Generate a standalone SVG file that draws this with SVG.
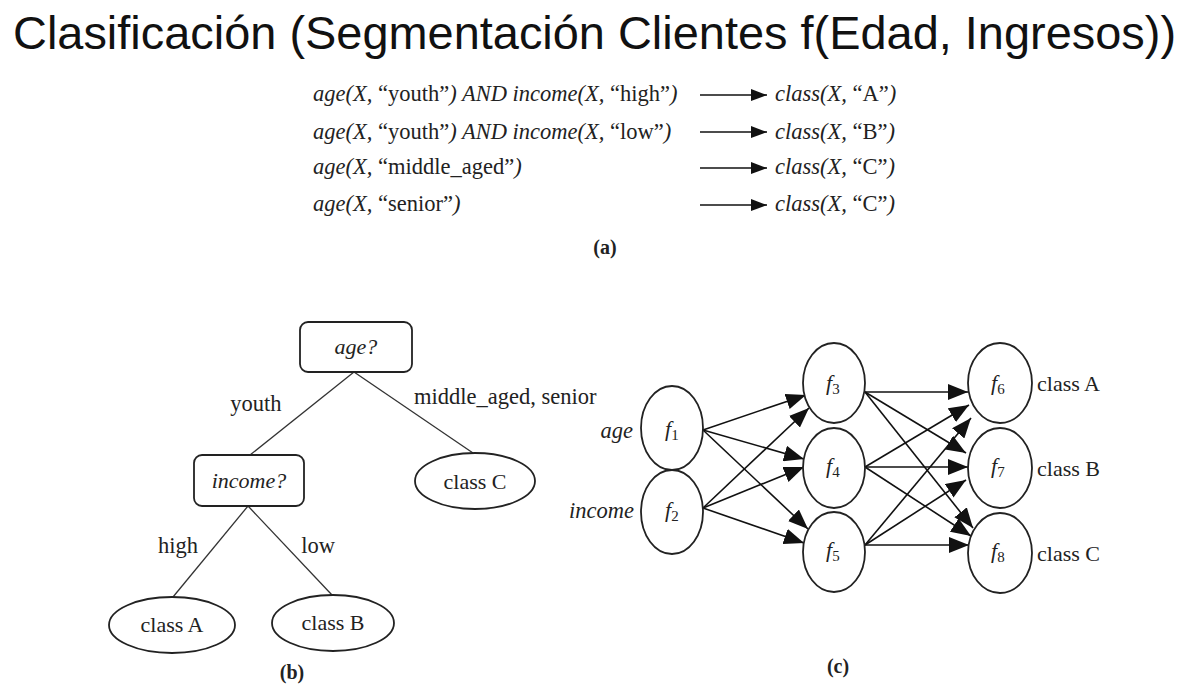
<svg xmlns="http://www.w3.org/2000/svg" width="1191" height="689" viewBox="0 0 1191 689">
<style>
.title{font-family:"Liberation Sans",Arial,sans-serif;font-size:46px;fill:#111}
.t{font-family:"Liberation Serif","Times New Roman",serif;fill:#222}
.r{font-size:22.5px}
.n{font-size:22px}
.l{font-size:22.5px}
.i{font-style:italic}
.u{font-style:normal}
.sub{font-style:normal;font-size:15px}
.cap{font-family:"Liberation Serif","Times New Roman",serif;font-weight:bold;font-size:20px;fill:#222}
.shape{fill:#fff;stroke:#222;stroke-width:1.8}
.edge{stroke:#333;stroke-width:1.3;fill:none}
.arr{stroke:#111;stroke-width:1.6;fill:none;marker-end:url(#ah)}
.arr2{stroke:#111;stroke-width:1.6;fill:none;marker-end:url(#ah2)}
</style>
<defs>
<marker id="ah" markerUnits="userSpaceOnUse" markerWidth="17" markerHeight="12" refX="16" refY="6" orient="auto">
<path d="M0,0 L16,6 L0,12 z" fill="#111"/>
</marker>
<marker id="ah2" markerUnits="userSpaceOnUse" markerWidth="21" markerHeight="16" refX="20" refY="8" orient="auto">
<path d="M0,0 L20,8 L0,16 z" fill="#111"/>
</marker>
</defs>
<rect width="1191" height="689" fill="#fff"/>
<text class="title" x="13" y="49" textLength="1163" lengthAdjust="spacingAndGlyphs">Clasificación (Segmentación Clientes f(Edad, Ingresos))</text>

<g id="rules">
<text class="t r i" x="313" y="101">age(X, <tspan class="u">“youth”</tspan>) AND income(X, <tspan class="u">“high”</tspan>)</text>
<text class="t r i" x="313" y="139">age(X, <tspan class="u">“youth”</tspan>) AND income(X, <tspan class="u">“low”</tspan>)</text>
<text class="t r i" x="313" y="174">age(X, <tspan class="u">“middle_aged”</tspan>)</text>
<text class="t r i" x="313" y="211">age(X, <tspan class="u">“senior”</tspan>)</text>
<text class="t r i" x="775" y="101">class(X, <tspan class="u">“A”</tspan>)</text>
<text class="t r i" x="775" y="139">class(X, <tspan class="u">“B”</tspan>)</text>
<text class="t r i" x="775" y="174">class(X, <tspan class="u">“C”</tspan>)</text>
<text class="t r i" x="775" y="211">class(X, <tspan class="u">“C”</tspan>)</text>
<text class="cap" x="605" y="254" text-anchor="middle">(a)</text>
</g>
<g id="rule-arrows">
<line class="arr" x1="700" y1="95" x2="767" y2="95"/>
<line class="arr" x1="700" y1="132" x2="767" y2="132"/>
<line class="arr" x1="700" y1="168" x2="767" y2="168"/>
<line class="arr" x1="700" y1="205" x2="767" y2="205"/>
</g>

<g id="tree-edges">
<line class="edge" x1="354" y1="372" x2="250" y2="455"/>
<line class="edge" x1="354" y1="372" x2="473" y2="453"/>
<line class="edge" x1="248" y1="506" x2="173" y2="597"/>
<line class="edge" x1="248" y1="506" x2="332" y2="595"/>
<text class="t l" x="256" y="411" text-anchor="middle">youth</text>
<text class="t l" x="414" y="404">middle_aged, senior</text>
<text class="t l" x="178" y="553" text-anchor="middle">high</text>
<text class="t l" x="318" y="553" text-anchor="middle">low</text>
</g>
<g id="node-age">
<rect class="shape" x="300" y="322" width="112" height="50" rx="8"/>
<text class="t n i" x="356" y="354" text-anchor="middle">age?</text>
</g>
<g id="node-income">
<rect class="shape" x="194" y="455" width="110" height="51" rx="8"/>
<text class="t n i" x="249" y="488" text-anchor="middle">income?</text>
</g>
<g id="node-classC">
<ellipse class="shape" cx="475" cy="481" rx="60" ry="28"/>
<text class="t n" x="475" y="489" text-anchor="middle">class C</text>
</g>
<g id="node-classA">
<ellipse class="shape" cx="172" cy="625" rx="63" ry="28"/>
<text class="t n" x="172" y="632" text-anchor="middle">class A</text>
</g>
<g id="node-classB">
<ellipse class="shape" cx="333" cy="623" rx="61" ry="28"/>
<text class="t n" x="333" y="630" text-anchor="middle">class B</text>
</g>
<text class="cap" x="292" y="679" text-anchor="middle">(b)</text>

<g id="nn-edges">
<line class="arr2" x1="703" y1="430" x2="806" y2="395"/>
<line class="arr2" x1="703" y1="430" x2="804" y2="459"/>
<line class="arr2" x1="703" y1="430" x2="808" y2="529"/>
<line class="arr2" x1="703" y1="508" x2="809" y2="408"/>
<line class="arr2" x1="703" y1="508" x2="804" y2="467"/>
<line class="arr2" x1="703" y1="508" x2="804" y2="543"/>
<line class="arr2" x1="865" y1="392" x2="968" y2="392"/>
<line class="arr2" x1="865" y1="392" x2="966" y2="453"/>
<line class="arr2" x1="865" y1="392" x2="973" y2="528"/>
<line class="arr2" x1="865" y1="467" x2="969" y2="405"/>
<line class="arr2" x1="865" y1="467" x2="968" y2="467"/>
<line class="arr2" x1="865" y1="467" x2="971" y2="536"/>
<line class="arr2" x1="865" y1="545" x2="971" y2="418"/>
<line class="arr2" x1="865" y1="545" x2="966" y2="480"/>
<line class="arr2" x1="865" y1="545" x2="969" y2="545"/>
</g>
<g id="nn-f1">
<ellipse class="shape" cx="672" cy="428" rx="31" ry="42"/>
<text class="t n i" x="665" y="436">f<tspan class="sub" dy="4">1</tspan></text>
<text class="t l i" x="633" y="438" text-anchor="end">age</text>
</g>
<g id="nn-f2">
<ellipse class="shape" cx="672" cy="512" rx="31" ry="42"/>
<text class="t n i" x="665" y="517">f<tspan class="sub" dy="4">2</tspan></text>
<text class="t l i" x="634" y="518" text-anchor="end">income</text>
</g>
<g id="nn-f3">
<ellipse class="shape" cx="834" cy="383" rx="31" ry="40"/>
<text class="t n i" x="826" y="390">f<tspan class="sub" dy="4">3</tspan></text>
</g>
<g id="nn-f4">
<ellipse class="shape" cx="834" cy="468" rx="31" ry="40"/>
<text class="t n i" x="826" y="473">f<tspan class="sub" dy="4">4</tspan></text>
</g>
<g id="nn-f5">
<ellipse class="shape" cx="834" cy="552" rx="31" ry="40"/>
<text class="t n i" x="826" y="557">f<tspan class="sub" dy="4">5</tspan></text>
</g>
<g id="nn-f6">
<ellipse class="shape" cx="1000" cy="383" rx="32" ry="40"/>
<text class="t n i" x="991" y="390">f<tspan class="sub" dy="4">6</tspan></text>
<text class="t n" x="1037" y="391">class A</text>
</g>
<g id="nn-f7">
<ellipse class="shape" cx="1000" cy="468" rx="32" ry="40"/>
<text class="t n i" x="991" y="473">f<tspan class="sub" dy="4">7</tspan></text>
<text class="t n" x="1037" y="476">class B</text>
</g>
<g id="nn-f8">
<ellipse class="shape" cx="1000" cy="553" rx="32" ry="40"/>
<text class="t n i" x="991" y="558">f<tspan class="sub" dy="4">8</tspan></text>
<text class="t n" x="1037" y="561">class C</text>
</g>
<text class="cap" x="838" y="673" text-anchor="middle">(c)</text>
</svg>
